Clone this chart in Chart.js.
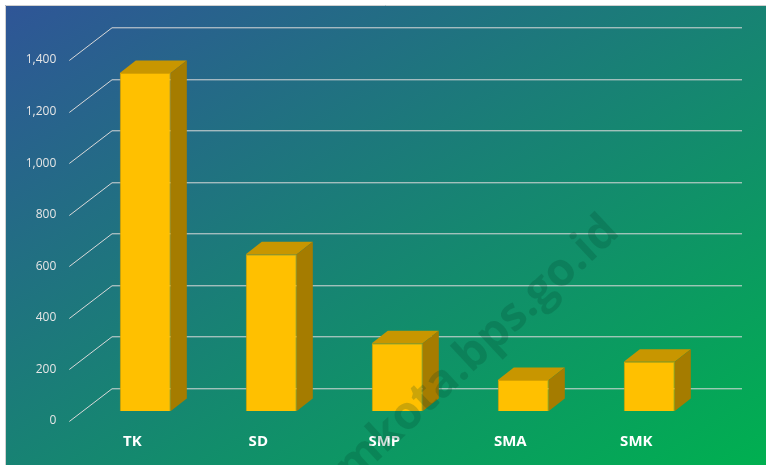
<!DOCTYPE html>
<html>
<head>
<meta charset="utf-8">
<script src="https://cdn.jsdelivr.net/npm/chart.js@4.4.1/dist/chart.umd.min.js"></script>
<style>
  html, body { margin: 0; padding: 0; background: #ffffff; }
  #chart { display: block; }
</style>
</head>
<body>
<canvas id="chart" width="766" height="465"></canvas>
<script>
const categories = ['TK', 'SD', 'SMP', 'SMA', 'SMK']
const schoolCounts = [1311, 608, 263, 120, 191]
const yMin = 0
const yMax = 1400
const yStep = 200
const watermarkText = 'mataramkota.bps.go.id'

// oblique projection of the floor / back wall
const WALL_DX = 42.7
const WALL_DY = -32.7
// bars sit a little behind the front edge, and have their own depth
const BAR_DX = 13
const BAR_DY = -10
const DEPTH_DX = 16
const DEPTH_DY = -12.5

const colors = {
  front: '#FFC000',
  frontEdge: '#D9A300',
  top: '#C89600',
  side: '#A57C00',
  grid: '#D9D9D9',
  frame: '#D0D0D0',
  tick: '#E6E6E6',
  label: '#FFFFFF',
  watermark: 'rgba(0, 60, 40, 0.2)',
}

const scene3d = {
  id: 'scene3d',
  beforeDraw(chart) {
    const { ctx, width, height } = chart
    ctx.save()
    ctx.fillStyle = '#ffffff'
    ctx.fillRect(0, 0, width, height)

    // diagonal gradient, iso-lines along the anti-diagonal of the panel
    const x0 = 5, y0 = 5, w = width - x0, h = height - y0
    const k = 2 / (1 / (w * w) + 1 / (h * h))
    const grad = ctx.createLinearGradient(x0, y0, x0 + k / w, y0 + k / h)
    grad.addColorStop(0, '#2F5597')
    grad.addColorStop(1, '#00B050')
    ctx.fillStyle = grad
    ctx.fillRect(x0, y0, w, h)

    ctx.strokeStyle = colors.frame
    ctx.lineWidth = 1
    ctx.beginPath()
    ctx.moveTo(x0 + 0.5, height)
    ctx.lineTo(x0 + 0.5, y0 + 0.5)
    ctx.lineTo(width, y0 + 0.5)
    ctx.stroke()
    ctx.restore()
  },
  beforeDatasetsDraw(chart) {
    const { ctx, chartArea } = chart
    const yScale = chart.scales.y
    ctx.save()
    ctx.strokeStyle = colors.grid
    ctx.lineWidth = 1
    yScale.ticks.forEach((tick) => {
      const y = Math.round(yScale.getPixelForValue(tick.value)) + 0.5
      ctx.beginPath()
      ctx.moveTo(chartArea.left, y)
      ctx.lineTo(chartArea.left + WALL_DX, y + WALL_DY)
      ctx.lineTo(chartArea.right + WALL_DX, y + WALL_DY)
      ctx.stroke()
    })
    ctx.restore()

    // bars are drawn shifted into the floor
    ctx.save()
    ctx.translate(BAR_DX, BAR_DY)
  },
  afterDatasetsDraw(chart) {
    const { ctx } = chart
    const meta = chart.getDatasetMeta(0)
    meta.data.forEach((bar) => {
      const { x, y, base, width } = bar.getProps(['x', 'y', 'base', 'width'], true)
      const l = x - width / 2
      const r = x + width / 2

      ctx.fillStyle = colors.top
      ctx.beginPath()
      ctx.moveTo(l, y)
      ctx.lineTo(r, y)
      ctx.lineTo(r + DEPTH_DX, y + DEPTH_DY)
      ctx.lineTo(l + DEPTH_DX, y + DEPTH_DY)
      ctx.closePath()
      ctx.fill()

      ctx.fillStyle = colors.side
      ctx.beginPath()
      ctx.moveTo(r, y)
      ctx.lineTo(r + DEPTH_DX, y + DEPTH_DY)
      ctx.lineTo(r + DEPTH_DX, base + DEPTH_DY)
      ctx.lineTo(r, base)
      ctx.closePath()
      ctx.fill()
    })
    ctx.restore()
  },
  afterDraw(chart) {
    // watermark sits over everything
    const { ctx } = chart
    ctx.save()
    ctx.translate(621, 234)
    ctx.rotate(-43 * Math.PI / 180)
    ctx.font = 'bold 46px "Open Sans", sans-serif'
    ctx.textAlign = 'right'
    ctx.textBaseline = 'alphabetic'
    ctx.fillStyle = colors.watermark
    ctx.fillText(watermarkText, 0, 0)
    ctx.restore()
  },
}

const chart = new Chart(document.getElementById('chart'), {
  type: 'bar',
  data: {
    labels: categories,
    datasets: [
      {
        data: schoolCounts,
        backgroundColor: colors.front,
        borderColor: colors.frontEdge,
        borderWidth: 1,
        barPercentage: 0.405,
        categoryPercentage: 1,
      },
    ],
  },
  options: {
    responsive: false,
    devicePixelRatio: 1,
    animation: false,
    layout: {
      padding: { left: 5, right: 66.7, top: 60, bottom: 0 },
    },
    plugins: {
      legend: { display: false },
      tooltip: { enabled: false },
    },
    scales: {
      x: {
        grid: { display: false, drawTicks: false },
        border: { display: false },
        ticks: {
          color: colors.label,
          padding: 12,
          maxRotation: 0,
          font: { family: '"Open Sans", sans-serif', size: 15, weight: 'bold' },
        },
        afterFit(scale) {
          scale.height = 44
        },
      },
      y: {
        min: yMin,
        max: yMax,
        grid: { display: false, drawTicks: false },
        border: { display: false },
        ticks: {
          stepSize: yStep,
          color: colors.tick,
          padding: 13,
          font: { family: '"Open Sans", sans-serif', size: 12 },
          callback: (value) => value.toLocaleString('en-US'),
        },
        afterFit(scale) {
          scale.width = 64.3
        },
      },
    },
  },
  plugins: [scene3d],
})
</script>
</body>
</html>
